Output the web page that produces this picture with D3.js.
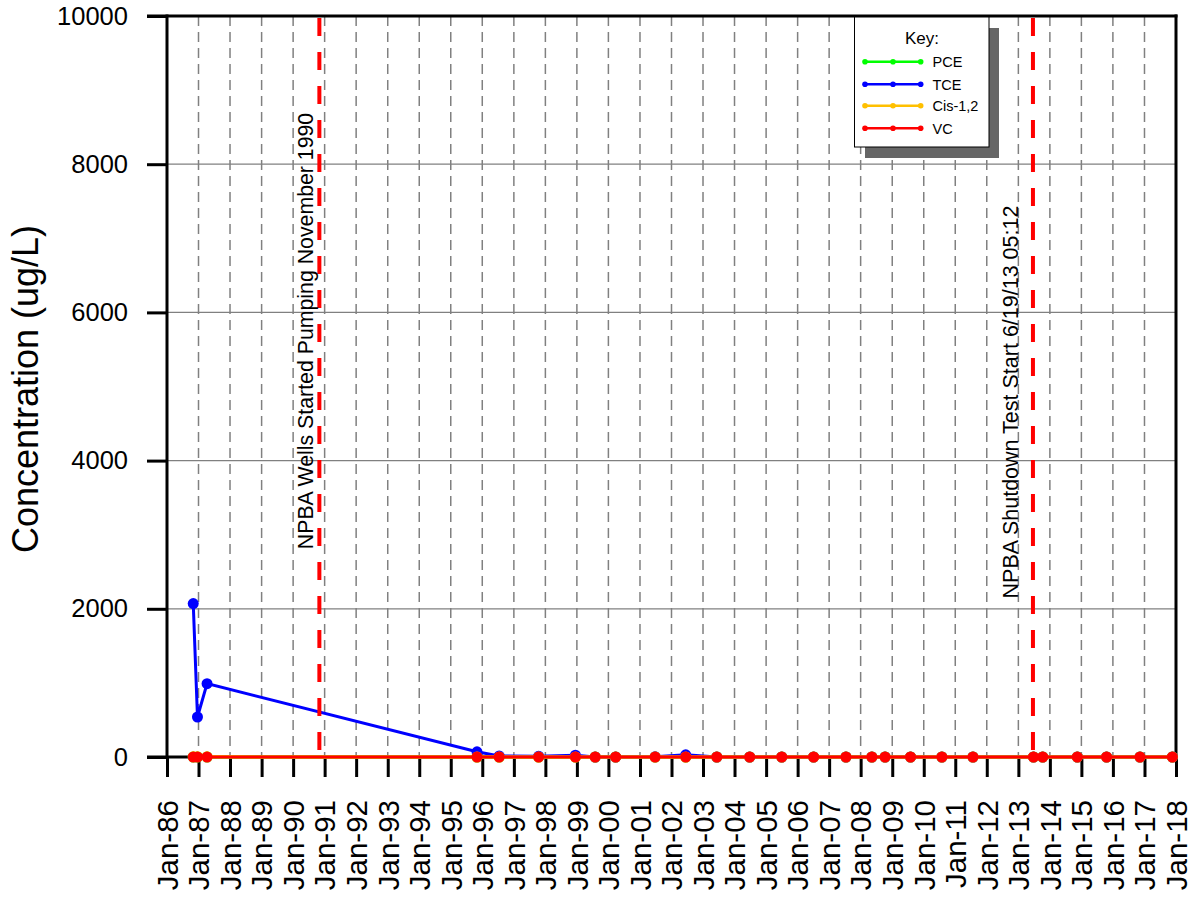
<!DOCTYPE html>
<html><head><meta charset="utf-8">
<script src="https://cdn.jsdelivr.net/npm/d3@7"></script>
<style>body{margin:0;background:#fff}svg{display:block}text{font-family:"Liberation Sans",Arial,sans-serif}</style>
</head><body><svg id="c" width="1191" height="900"></svg>
<script>
const sampleDates = ["1986-11-01","1986-12-20","1987-04-10","1995-11-01","1996-07-15","1997-10-15","1998-12-15","1999-08-01","2000-03-25","2001-06-25","2002-06-15","2003-06-10","2004-06-25","2005-07-01","2006-07-05","2007-07-15","2008-05-10","2008-10-10","2009-08-01","2010-07-30","2011-07-25","2013-06-25","2013-10-10","2014-11-15","2015-10-20","2016-11-10","2017-11-20"];
const pceValues = [0,0,0,0,0,0,0,0,0,0,0,0,0,0,0,0,0,0,0,0,0,0,0,0,0,0,0];
const tceValues = [2070,540,990,70,15,10,25,0,0,3,30,0,0,0,0,0,0,0,0,0,0,0,0,0,0,0,0];
const cisValues = [2,2,2,0,0,0,0,0,0,0,0,0,0,0,0,0,0,0,0,0,0,0,0,0,0,0,0];
const vcValues  = [0,0,0,0,0,0,0,0,0,0,0,0,0,0,0,0,0,0,0,0,0,0,0,0,0,0,0];
const seriesNames = ["PCE","TCE","Cis-1,2","VC"];
const seriesColors = ["#00ff00","#0000ff","#ffc000","#ff0000"];
const yTicks = [0,2000,4000,6000,8000,10000];
const events = [{date:"1990-11-01", label:"NPBA Wells Started Pumping November 1990"},
                {date:"2013-06-19", label:"NPBA Shutdown Test Start 6/19/13 05:12"}];

const parse = d3.timeParse("%Y-%m-%d");
const svg = d3.select("#c");
const L=167, R=1176, T=16, B=757;
const x = d3.scaleTime().domain([new Date(1986,0,1), new Date(2018,0,1)]).range([L,R]);
const y = d3.scaleLinear().domain([0,10000]).range([B,T]);
const yearTicks = d3.timeYear.range(new Date(1986,0,1), new Date(2018,0,2));

// vertical dashed grid
svg.append("g").selectAll("line").data(yearTicks.slice(1)).join("line")
  .attr("x1",d=>x(d)).attr("x2",d=>x(d)).attr("y1",T).attr("y2",B)
  .attr("stroke","#808080").attr("stroke-width",1.5).attr("stroke-dasharray","10,6");
// horizontal grid
svg.append("g").selectAll("line").data(yTicks.slice(1,-1)).join("line")
  .attr("x1",L).attr("x2",R).attr("y1",d=>y(d)).attr("y2",d=>y(d))
  .attr("stroke","#808080").attr("stroke-width",1.2);

// axes
const xAxis = svg.append("g").attr("transform",`translate(0,${B})`)
  .call(d3.axisBottom(x).tickValues(yearTicks).tickSize(20).tickFormat(d3.timeFormat("%b-%y")));
xAxis.select(".domain").remove();
xAxis.selectAll(".tick line").attr("stroke","#000").attr("stroke-width",3);
xAxis.selectAll(".tick text").attr("transform","rotate(-90)").attr("text-anchor","end")
  .attr("x",-43).attr("y",0).attr("dy","0.35em").attr("font-size","29.5px").attr("fill","#000");

const yAxis = svg.append("g").attr("transform",`translate(${L},0)`)
  .call(d3.axisLeft(y).tickValues(yTicks).tickSize(20).tickPadding(19).tickFormat(d=>String(d)));
yAxis.select(".domain").remove();
yAxis.selectAll(".tick line").attr("stroke","#000").attr("stroke-width",3);
yAxis.selectAll(".tick text").attr("font-size","25.5px").attr("fill","#000");

// frame
svg.append("line").attr("x1",L).attr("x2",L).attr("y1",T-1.5).attr("y2",B+1.5).attr("stroke","#000").attr("stroke-width",3);
svg.append("line").attr("x1",R).attr("x2",R).attr("y1",T-1.5).attr("y2",B+1.5).attr("stroke","#000").attr("stroke-width",3);
svg.append("line").attr("x1",L-20).attr("x2",R+1.5).attr("y1",T).attr("y2",T).attr("stroke","#000").attr("stroke-width",3);
svg.append("line").attr("x1",L-20).attr("x2",R+1.5).attr("y1",B).attr("y2",B).attr("stroke","#000").attr("stroke-width",3);

// series
const dates = sampleDates.map(parse);
const allValues = [pceValues,tceValues,cisValues,vcValues];
const line = d3.line().x(d=>x(d[0])).y(d=>y(d[1]));
allValues.forEach((vals,i)=>{
  const pts = dates.map((d,j)=>[d,vals[j]]);
  const g = svg.append("g");
  g.append("path").datum(pts).attr("d",line).attr("fill","none")
    .attr("stroke",seriesColors[i]).attr("stroke-width",i===2?3.5:3);
  g.selectAll("circle").data(pts).join("circle")
    .attr("cx",d=>x(d[0])).attr("cy",d=>y(d[1])).attr("r",5.5).attr("fill",seriesColors[i]);
});

// event lines
events.forEach(ev=>{
  const xe = x(parse(ev.date));
  svg.append("line").attr("x1",xe).attr("x2",xe).attr("y1",T+2).attr("y2",B)
    .attr("stroke","#ff0000").attr("stroke-width",4).attr("stroke-dasharray","18,16");
});
const evPos = [{bx:313, cy:331, fs:21.3},{bx:1018, cy:402, fs:21.5}];
events.forEach((ev,i)=>{
  svg.append("text").attr("transform",`translate(${evPos[i].bx},${evPos[i].cy}) rotate(-90)`)
    .attr("text-anchor","middle").attr("font-size",evPos[i].fs+"px").attr("fill","#000").text(ev.label);
});

// y title
svg.append("text").attr("transform","translate(38,389) rotate(-90)").attr("text-anchor","middle")
  .attr("font-size","36px").attr("fill","#000").text("Concentration (ug/L)");

// legend
const lg = svg.append("g");
lg.append("rect").attr("x",865).attr("y",28).attr("width",134).attr("height",130).attr("fill","#666");
lg.append("rect").attr("x",854.5).attr("y",17).attr("width",134.5).attr("height",130).attr("fill","#fff").attr("stroke","#000").attr("stroke-width",1);
lg.append("text").attr("x",922).attr("y",44).attr("text-anchor","middle").attr("font-size","17px").text("Key:");
const rowY = [61.7,84.3,105.7,128.3];
seriesNames.forEach((n,i)=>{
  lg.append("line").attr("x1",865).attr("x2",920.7).attr("y1",rowY[i]).attr("y2",rowY[i])
    .attr("stroke",seriesColors[i]).attr("stroke-width",2.5);
  [865,893,920.7].forEach(cx=>lg.append("circle").attr("cx",cx).attr("cy",rowY[i]).attr("r",2.8).attr("fill",seriesColors[i]));
  lg.append("text").attr("x",932.5).attr("y",rowY[i]+5.3).attr("font-size","14.5px").text(n);
});
</script></body></html>
